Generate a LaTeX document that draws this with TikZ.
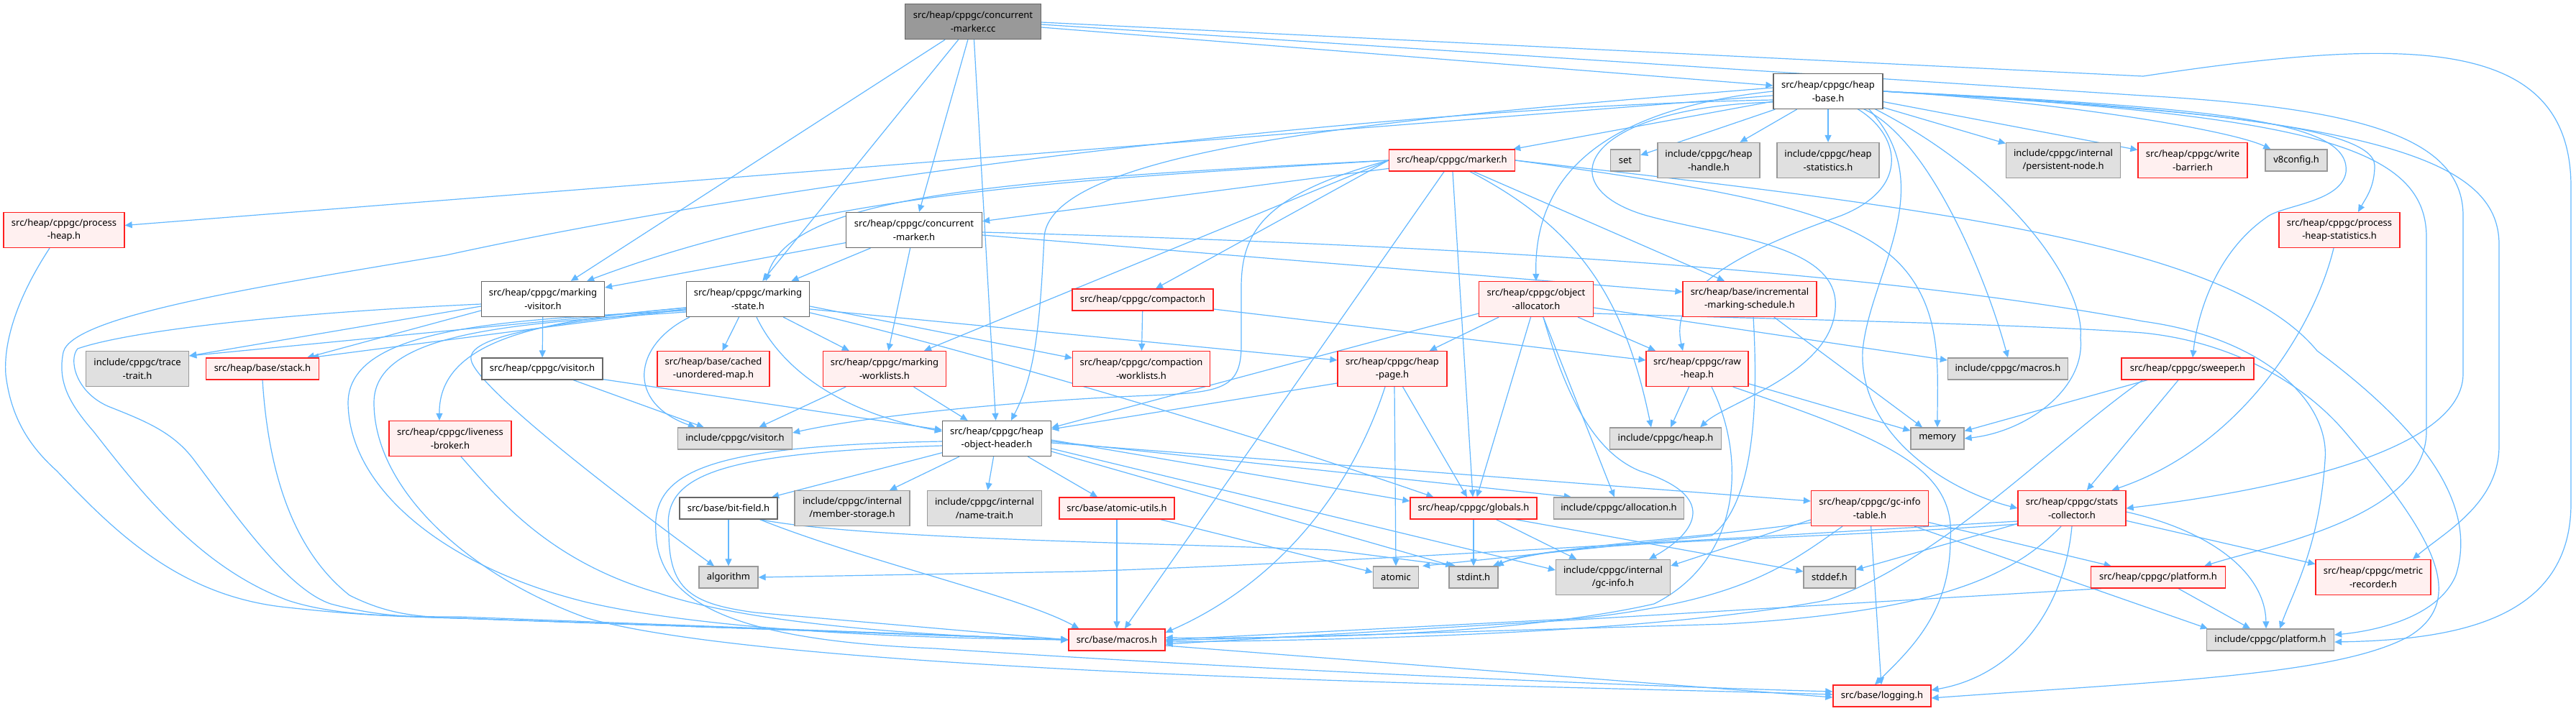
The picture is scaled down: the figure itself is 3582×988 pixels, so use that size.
\documentclass[tikz,border=0pt]{standalone}
\usepackage{fontspec}
\setmainfont{Noto Sans}
\usetikzlibrary{arrows.meta,calc}
\pgfdeclarelayer{bg}
\pgfsetlayers{bg,main}
\definecolor{eb}{HTML}{63B8FF}
\definecolor{gw}{HTML}{666666}
\definecolor{rd}{HTML}{FF2020}
\definecolor{rf}{HTML}{FFF0F0}
\definecolor{gd}{HTML}{999999}
\definecolor{gf}{HTML}{E0E0E0}
\definecolor{cf}{HTML}{999999}
\newcommand{\nfs}{\fontsize{13}{18.7}\selectfont}
\tikzset{
  ed/.style={draw=eb, line width=1.2pt, -{Triangle[length=10pt,width=9pt]}},
  nd/.style={rectangle, inner sep=0pt, line width=1.3pt, font=\nfs, align=center, text=black},
  wn/.style={nd, draw=gw, fill=white},
  rn/.style={nd, draw=rd, fill=rf},
  gn/.style={nd, draw=gd, fill=gf},
  cn/.style={nd, draw=gw, fill=cf},
}
\begin{document}
\begin{tikzpicture}[x=1pt,y=-1pt]
\useasboundingbox (0,0) rectangle (3582,988);
\begin{pgfonlayer}{bg}
\fill[white] (0,0) rectangle (3582,988);
\end{pgfonlayer}
% ---------------- nodes ----------------
\node[cn,minimum width=189pt,minimum height=49pt] (cc) at (1353,30) {src/heap/cppgc/concurrent\\-marker.cc};
\node[wn,minimum width=189pt,minimum height=49pt] (cmh) at (1271,320) {src/heap/cppgc/concurrent\\-marker.h};
\node[rn,minimum width=196pt,minimum height=30pt] (compactor) at (1589,417) {src/heap/cppgc/compactor.h};
\node[rn,minimum width=191pt,minimum height=49pt] (compw) at (1587,513) {src/heap/cppgc/compaction\\-worklists.h};
\node[wn,minimum width=171pt,minimum height=49pt] (mvis) at (755,416) {src/heap/cppgc/marking\\-visitor.h};
\node[wn,minimum width=171pt,minimum height=49pt] (mstate) at (1040,416) {src/heap/cppgc/marking\\-state.h};
\node[rn,minimum width=156pt,minimum height=49pt] (cmap) at (992,513) {src/heap/base/cached\\-unordered-map.h};
\node[rn,minimum width=171pt,minimum height=49pt] (mwl) at (1230,513) {src/heap/cppgc/marking\\-worklists.h};
\node[wn,minimum width=168pt,minimum height=30pt] (svis) at (754,513) {src/heap/cppgc/visitor.h};
\node[gn,minimum width=159pt,minimum height=30pt] (ivis) at (1022,610) {include/cppgc/visitor.h};
\node[rn,minimum width=170pt,minimum height=49pt] (lb) at (626,610) {src/heap/cppgc/liveness\\-broker.h};
\node[gn,minimum width=143pt,minimum height=49pt] (tt) at (191,513) {include/cppgc/trace\\-trait.h};
\node[rn,minimum width=157pt,minimum height=30pt] (stack) at (365,513) {src/heap/base/stack.h};
\node[rn,minimum width=168pt,minimum height=49pt] (ph) at (89,320) {src/heap/cppgc/process\\-heap.h};
\node[wn,minimum width=152pt,minimum height=49pt] (hb) at (2542,127) {src/heap/cppgc/heap\\-base.h};
\node[rn,minimum width=175pt,minimum height=30pt] (marker) at (2019,223) {src/heap/cppgc/marker.h};
\node[gn,minimum width=41pt,minimum height=30pt] (set) at (2260,223) {set};
\node[gn,minimum width=142pt,minimum height=49pt] (hh) at (2376,223) {include/cppgc/heap\\-handle.h};
\node[gn,minimum width=142pt,minimum height=49pt] (hs) at (2542,223) {include/cppgc/heap\\-statistics.h};
\node[gn,minimum width=159pt,minimum height=49pt] (pn) at (2869,223) {include/cppgc/internal\\/persistent-node.h};
\node[rn,minimum width=152pt,minimum height=49pt] (wb) at (3049,223) {src/heap/cppgc/write\\-barrier.h};
\node[gn,minimum width=86pt,minimum height=30pt] (v8) at (3193,223) {v8config.h};
\node[rn,minimum width=168pt,minimum height=49pt] (phs) at (3253,320) {src/heap/cppgc/process\\-heap-statistics.h};
\node[rn,minimum width=159pt,minimum height=49pt] (oa) at (2136,416) {src/heap/cppgc/object\\-allocator.h};
\node[rn,minimum width=186pt,minimum height=49pt] (ims) at (2433,416) {src/heap/base/incremental\\-marking-schedule.h};
\node[rn,minimum width=152pt,minimum height=49pt] (hp) at (1936,513) {src/heap/cppgc/heap\\-page.h};
\node[rn,minimum width=142pt,minimum height=49pt] (rh) at (2360,513) {src/heap/cppgc/raw\\-heap.h};
\node[gn,minimum width=167pt,minimum height=30pt] (imac) at (2792,513) {include/cppgc/macros.h};
\node[rn,minimum width=184pt,minimum height=30pt] (sw) at (3042,513) {src/heap/cppgc/sweeper.h};
\node[gn,minimum width=74pt,minimum height=30pt] (mem) at (2694,610) {memory};
\node[gn,minimum width=155pt,minimum height=30pt] (iheap) at (2316,610) {include/cppgc/heap.h};
\node[wn,minimum width=151pt,minimum height=49pt] (hoh) at (1386,610) {src/heap/cppgc/heap\\-object-header.h};
\node[wn,minimum width=136pt,minimum height=30pt] (bf) at (1013,707) {src/base/bit-field.h};
\node[gn,minimum width=160pt,minimum height=49pt] (ms) at (1185,707) {include/cppgc/internal\\/member-storage.h};
\node[gn,minimum width=159pt,minimum height=49pt] (nt) at (1369,707) {include/cppgc/internal\\/name-trait.h};
\node[rn,minimum width=160pt,minimum height=30pt] (au) at (1553,707) {src/base/atomic-utils.h};
\node[rn,minimum width=176pt,minimum height=30pt] (glob) at (2049,707) {src/heap/cppgc/globals.h};
\node[gn,minimum width=181pt,minimum height=30pt] (alloc) at (2251,707) {include/cppgc/allocation.h};
\node[rn,minimum width=163pt,minimum height=49pt] (git) at (2600,707) {src/heap/cppgc/gc-info\\-table.h};
\node[rn,minimum width=150pt,minimum height=49pt] (sc) at (2881,707) {src/heap/cppgc/stats\\-collector.h};
\node[gn,minimum width=82pt,minimum height=30pt] (algo) at (1013,803) {algorithm};
\node[gn,minimum width=63pt,minimum height=30pt] (atomic) at (1941,803) {atomic};
\node[gn,minimum width=68pt,minimum height=30pt] (stdint) at (2049,803) {stdint.h};
\node[gn,minimum width=159pt,minimum height=49pt] (gci) at (2243,803) {include/cppgc/internal\\/gc-info.h};
\node[gn,minimum width=72pt,minimum height=30pt] (stddef) at (2544,803) {stddef.h};
\node[rn,minimum width=187pt,minimum height=30pt] (splat) at (3001,803) {src/heap/cppgc/platform.h};
\node[rn,minimum width=160pt,minimum height=49pt] (mr) at (3300,803) {src/heap/cppgc/metric\\-recorder.h};
\node[gn,minimum width=177pt,minimum height=30pt] (iplat) at (3157,890) {include/cppgc/platform.h};
\node[rn,minimum width=134pt,minimum height=30pt] (macros) at (1553,890) {src/base/macros.h};
\node[rn,minimum width=136pt,minimum height=30pt] (log) at (2617,968) {src/base/logging.h};
% ---------------- edges ----------------
\begin{pgfonlayer}{bg}
% concurrent-marker.cc
\draw[ed] ($(cc.east)+(0,8)$) -- ($(hb.west)+(0,-8)$);
\draw[ed] ($(cc.east)+(0,4)$) -- (2980,133) .. controls (3280,150) and (3425,190) .. (3425,300) -- (3425,520) .. controls (3425,640) and (3100,690) .. (sc.east);
\draw[ed] ($(cc.east)+(0,1)$) -- (2980,106) .. controls (3350,50) and (3575,50) .. (3575,260) -- (3575,700) .. controls (3575,860) and (3420,890) .. ($(iplat.east)+(0,3)$);
\draw[ed] (cc) -- (cmh);
\draw[ed] (cc) -- (hoh);
\draw[ed] (cc) -- (mvis);
\draw[ed] (cc) -- (mstate);
% heap-base
\draw[ed] (hb) -- (ph);
\draw[ed] (hb) -- (marker);
\draw[ed] (hb) -- (set);
\draw[ed] (hb) -- (hh);
\draw[ed] (hb) -- (hs);
\draw[ed] (hb) -- (pn);
\draw[ed] (hb) -- (wb);
\draw[ed] (hb.east) .. controls (2850,140) and (3100,180) .. ($(v8.north west)+(8,0)$);
\draw[ed] (hb.east) .. controls (3000,150) and (3300,170) .. (3302,230) .. controls (3302,260) and (3290,275) .. ($(phs.north)+(26,0)$);
\draw[ed] (hb.west) .. controls (2250,150) and (2132,230) .. (oa.north);
\draw[ed] (2582,151) .. controls (2640,185) and (2660,260) .. (2560,300) .. controls (2420,350) and (2320,400) .. ($(rh.north)+(-20,0)$);
\draw[ed] (2590,151) .. controls (2680,190) and (2760,380) .. (imac.north);
\draw[ed] (2606,151) .. controls (2800,250) and (2900,400) .. (2893,470) .. controls (2900,540) and (2820,600) .. (mem.east);
\draw[ed] (2598,151) .. controls (2700,260) and (2600,380) .. (2590,488) .. controls (2585,600) and (2700,680) .. (sc.west);
\draw[ed] ($(hb.west)+(0,15)$) .. controls (2200,150) and (2150,260) .. (2290,300) .. controls (2400,330) and (2560,340) .. (2552,430) .. controls (2545,520) and (2400,560) .. ($(iheap.north east)+(-30,0)$);
\draw[ed] (hb.east) .. controls (3100,150) and (3270,170) .. (3262,240) .. controls (3255,280) and (3180,285) .. (3155,300) .. controls (3080,350) and (3055,440) .. ($(sw.north)+(7,0)$);
\draw[ed] (hb.east) .. controls (3200,160) and (3374,200) .. (3374,330) -- (3374,600) .. controls (3374,720) and (3150,760) .. ($(splat.north east)+(-30,0)$);
\draw[ed] (hb.east) .. controls (3300,160) and (3475,220) .. (3475,340) -- (3475,620) .. controls (3475,700) and (3400,740) .. ($(mr.north)+(55,0)$);
\draw[ed] ($(hb.west)+(0,12)$) .. controls (1900,150) and (1100,250) .. (620,355) .. controls (350,400) and (100,440) .. (88,490) .. controls (80,530) and (95,560) .. (130,600) .. controls (200,690) and (280,790) .. (400,835) .. controls (460,855) and (540,858) .. (640,858) -- (macros.west);
\draw[ed] ($(hb.west)+(0,-5)$) .. controls (2000,160) and (1460,200) .. (1452,330) .. controls (1446,450) and (1440,520) .. ($(hoh.north)+(20,0)$);
% marker
\draw[ed] (marker) -- (cmh);
\draw[ed] (marker.west) .. controls (1500,250) and (1150,265) .. ($(mvis.north east)+(-25,0)$);
\draw[ed] (marker.west) .. controls (1400,250) and (1100,270) .. ($(mstate.north)+(25,0)$);
\draw[ed] (marker.west) -- ($(mwl.north)+(55,0)$);
\draw[ed] (marker.west) -- ($(compactor.north)+(18,0)$);
\draw[ed] (marker.west) .. controls (1760,270) and (1726,320) .. (1726,400) -- (1726,480) .. controls (1726,540) and (1700,546) .. (1600,550) .. controls (1400,558) and (1200,580) .. ($(ivis.east)+(0,-8)$);
\draw[ed] (marker) -- (macros);
\draw[ed] (marker) -- (glob);
\draw[ed] ($(marker.south)+(25,0)$) .. controls (2200,320) and (2260,420) .. ($(iheap.north)+(-20,0)$);
\draw[ed] ($(marker.south)+(30,0)$) -- ($(ims.north)+(-35,0)$);
\draw[ed] (marker.east) .. controls (2450,270) and (2600,300) .. (2660,390) .. controls (2700,450) and (2694,520) .. (mem.north);
\draw[ed] (marker.east) .. controls (2700,290) and (3100,340) .. (3222,488) .. controls (3400,620) and (3440,720) .. (3415,800) .. controls (3390,860) and (3300,878) .. ($(iplat.east)+(0,-7)$);
% concurrent-marker.h
\draw[ed] (cmh) -- (mvis);
\draw[ed] (cmh) -- (mstate);
\draw[ed] (cmh) -- (mwl);
\draw[ed] ($(cmh.east)+(0,7)$) -- ($(ims.west)+(0,-10)$);
\draw[ed] ($(cmh.east)+(0,3)$) .. controls (2000,340) and (2600,375) .. (2980,447) .. controls (3150,470) and (3240,560) .. (3233,640) .. controls (3225,760) and (3190,820) .. ($(iplat.north)+(13,0)$);
% marking-visitor
\draw[ed] (mvis) -- (svis);
\draw[ed] ($(mvis.west)+(0,10)$) -- ($(tt.east)+(0,-18)$);
\draw[ed] ($(mvis.west)+(0,16)$) -- ($(stack.north)+(62,0)$);
\draw[ed] ($(mvis.west)+(0,7)$) .. controls (400,435) and (180,460) .. (108,485) .. controls (95,500) and (105,545) .. (150,565) .. controls (200,585) and (240,600) .. (270,640) .. controls (330,720) and (400,820) .. (460,840) .. controls (520,856) and (560,858) .. (640,860) -- (macros.west);
% marking-state
\draw[ed] ($(mstate.west)+(0,12)$) -- ($(tt.east)+(0,-18)$);
\draw[ed] ($(mstate.west)+(0,14)$) -- ($(stack.north)+(68,0)$);
\draw[ed] ($(mstate.west)+(0,12)$) .. controls (760,445) and (610,470) .. ($(lb.north)+(-15,0)$);
\draw[ed] ($(mstate.west)+(0,14)$) .. controls (750,450) and (650,470) .. (655,500) .. controls (660,540) and (900,720) .. ($(algo.north)+(-20,0)$);
\draw[ed] ($(mstate.south west)+(5,0)$) .. controls (880,480) and (870,560) .. ($(ivis.north west)+(25,0)$);
\draw[ed] (mstate) -- (cmap);
\draw[ed] (mstate) -- (mwl);
\draw[ed] ($(mstate.south)+(12,0)$) .. controls (1080,500) and (1150,570) .. ($(hoh.west)+(0,-10)$);
\draw[ed] ($(mstate.east)+(0,10)$) -- ($(compw.west)+(0,-15)$);
\draw[ed] ($(mstate.east)+(0,14)$) -- ($(hp.west)+(0,-12)$);
\draw[ed] ($(mstate.east)+(0,19)$) .. controls (1300,475) and (1700,590) .. ($(glob.north west)+(33,0)$);
\draw[ed] ($(mstate.west)+(0,16)$) .. controls (700,445) and (485,455) .. (484,560) .. controls (485,680) and (620,790) .. (817,838) .. controls (1000,880) and (1300,888) .. (macros.west);
\draw[ed] ($(mstate.west)+(0,18)$) .. controls (720,450) and (520,460) .. (520,560) .. controls (520,680) and (650,800) .. (817,860) .. controls (1100,940) and (2200,955) .. ($(log.west)+(0,-2)$);
% visitor.h, liveness-broker, stack, process-heap
\draw[ed] (svis) -- (ivis);
\draw[ed] ($(svis.south east)+(0,-1)$) -- ($(hoh.west)+(0,-12)$);
\draw[ed] ($(lb.south)+(15,0)$) .. controls (690,690) and (760,780) .. (916,825) .. controls (1050,870) and (1300,885) .. (macros.west);
\draw[ed] (stack.south) .. controls (372,640) and (400,760) .. (486,828) .. controls (540,855) and (580,858) .. (640,860) -- (macros.west);
\draw[ed] ($(ph.south)+(-20,0)$) .. controls (20,420) and (5,480) .. (8,521) .. controls (15,580) and (40,620) .. (79,655) .. controls (160,740) and (250,830) .. (400,845) .. controls (500,856) and (560,858) .. (640,860) -- (macros.west);
% marking-worklists, compactor
\draw[ed] (mwl) -- (hoh);
\draw[ed] (mwl) -- (ivis);
\draw[ed] (compactor) -- (compw);
\draw[ed] ($(compactor.east)+(0,13)$) -- ($(rh.west)+(0,-12)$);
% object-allocator
\draw[ed] ($(oa.west)+(0,20)$) -- ($(hoh.east)+(0,-15)$);
\draw[ed] (oa) -- (hp);
\draw[ed] (oa) -- (glob);
\draw[ed] (oa) -- (alloc);
\draw[ed] ($(oa.south)+(10,0)$) .. controls (2180,560) and (2220,630) .. (2280,655) .. controls (2390,690) and (2360,740) .. ($(gci.north east)+(-30,0)$);
\draw[ed] (oa) -- (rh);
\draw[ed] ($(oa.east)+(0,12)$) -- ($(imac.west)+(0,-12)$);
\draw[ed] ($(oa.east)+(0,20)$) .. controls (2500,445) and (2800,450) .. (2980,463) .. controls (3100,475) and (3200,530) .. (3260,600) .. controls (3370,730) and (3440,830) .. (3350,885) .. controls (3250,940) and (3000,948) .. ($(log.east)+(0,3)$);
% heap-page
\draw[ed] ($(hp.west)+(0,20)$) -- ($(hoh.east)+(0,-13)$);
\draw[ed] (hp) -- (glob);
\draw[ed] ($(hp.south)+(3,0)$) -- (atomic.north);
\draw[ed] ($(hp.south)+(-10,0)$) .. controls (1880,680) and (1780,810) .. ($(macros.east)+(0,-10)$);
% raw-heap
\draw[ed] (rh) -- (iheap);
\draw[ed] (rh) -- (mem);
\draw[ed] ($(rh.south east)+(-22,0)$) .. controls (2620,610) and (2720,650) .. (2712,750) .. controls (2712,850) and (2660,900) .. ($(log.north)+(-10,0)$);
\draw[ed] ($(rh.south)+(20,0)$) .. controls (2430,640) and (2420,780) .. (2300,840) .. controls (2100,885) and (1800,888) .. ($(macros.east)+(0,-3)$);
% incremental-marking-schedule
\draw[ed] (ims) -- (mem);
\draw[ed] ($(ims.south)+(5,0)$) .. controls (2445,560) and (2440,700) .. (2380,745) -- ($(atomic.north east)+(5,0)$);
% sweeper
\draw[ed] (sw) -- (mem);
\draw[ed] (sw) -- (sc);
\draw[ed] ($(sw.south west)+(30,0)$) .. controls (2850,620) and (2700,780) .. (2540,835) .. controls (2300,880) and (1900,890) .. ($(macros.east)+(0,3)$);
% process-heap-statistics
\draw[ed] ($(phs.south)+(-8,0)$) .. controls (3220,450) and (3120,620) .. ($(sc.north east)+(-20,0)$);
% heap-object-header
\draw[ed] (hoh) -- (bf);
\draw[ed] (hoh) -- (ms);
\draw[ed] (hoh) -- (nt);
\draw[ed] (hoh) -- (au);
\draw[ed] ($(hoh.east)+(0,2)$) -- ($(glob.west)+(0,-10)$);
\draw[ed] ($(hoh.east)+(0,4)$) -- ($(alloc.north west)+(25,0)$);
\draw[ed] ($(hoh.east)+(0,6)$) -- ($(git.west)+(0,-10)$);
\draw[ed] ($(hoh.east)+(0,14)$) -- ($(gci.west)+(0,-10)$);
\draw[ed] ($(hoh.east)+(0,18)$) -- ($(stdint.north west)+(6,0)$);
\draw[ed] ($(hoh.west)+(0,10)$) .. controls (1000,630) and (920,660) .. (930,740) .. controls (930,820) and (960,840) .. (1050,852) -- (macros.west);
\draw[ed] ($(hoh.west)+(0,4)$) .. controls (1000,620) and (905,650) .. (912,740) .. controls (915,830) and (1000,890) .. (1300,902) .. controls (1800,935) and (2300,955) .. ($(log.west)+(0,-6)$);
% bit-field, atomic-utils
\draw[ed] (bf) -- (algo);
\draw[ed] ($(bf.south east)+(-25,0)$) .. controls (1200,750) and (1600,755) .. (1850,765) -- ($(stdint.north west)+(10,0)$);
\draw[ed] ($(bf.south east)+(-25,0)$) .. controls (1200,780) and (1420,830) .. ($(macros.north west)+(15,0)$);
\draw[ed] (au) -- (macros);
\draw[ed] ($(au.south east)+(-20,0)$) -- ($(atomic.west)+(0,-7)$);
% globals
\draw[ed] (glob) -- (stdint);
\draw[ed] (glob) -- (gci);
\draw[ed] ($(glob.south east)+(-30,0)$) -- ($(stddef.west)+(0,-8)$);
% gc-info-table
\draw[ed] ($(git.west)+(0,16)$) -- ($(gci.east)+(0,-16)$);
\draw[ed] ($(git.west)+(0,20)$) .. controls (2350,750) and (2150,760) .. ($(stdint.north east)+(-8,0)$);
\draw[ed] (git) -- (splat);
\draw[ed] ($(git.south east)+(-20,0)$) -- ($(iplat.north west)+(2,0)$);
\draw[ed] (git) -- (log);
\draw[ed] ($(git.south)+(-38,0)$) .. controls (2480,790) and (2420,835) .. (2200,860) -- (macros.east);
% stats-collector
\draw[ed] ($(sc.west)+(0,18)$) -- (2420,748) .. controls (2100,766) and (1800,785) .. (1500,795) -- (algo.east);
\draw[ed] ($(sc.west)+(0,22)$) .. controls (2500,752) and (2150,752) .. ($(stdint.north east)+(-3,0)$);
\draw[ed] (sc) -- (stddef);
\draw[ed] ($(sc.south)+(-15,0)$) .. controls (2800,800) and (2700,850) .. (2400,868) -- ($(macros.east)+(0,1)$);
\draw[ed] (sc.south) .. controls (2870,850) and (2800,940) .. ($(log.east)+(0,-8)$);
\draw[ed] (sc) -- (mr);
\draw[ed] ($(sc.east)+(0,5)$) .. controls (3080,740) and (3150,800) .. ($(iplat.north)+(-6,0)$);
% platform.h
\draw[ed] (splat) -- (iplat);
\draw[ed] ($(splat.south west)+(15,0)$) -- ($(macros.east)+(0,6)$);
% macros
\draw[ed] ($(macros.east)+(0,8)$) -- ($(log.west)+(0,2)$);
\end{pgfonlayer}
\end{tikzpicture}
\end{document}
